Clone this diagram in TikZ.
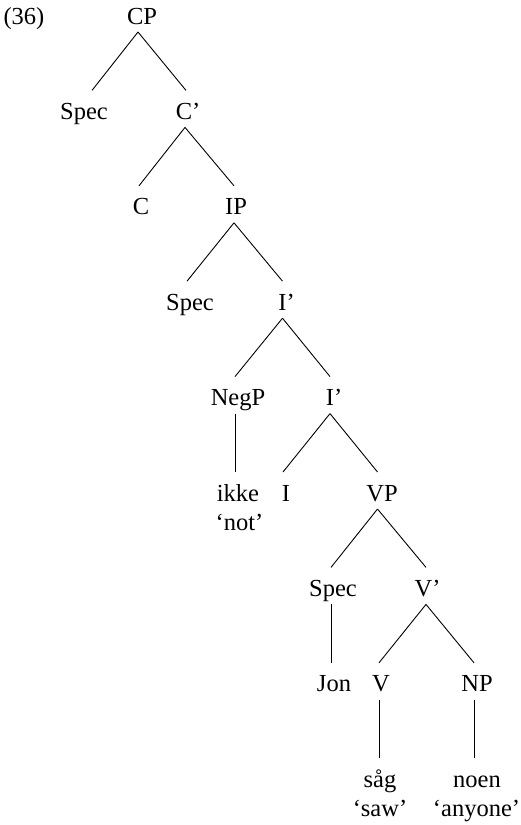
\documentclass[tikz,border=0pt]{standalone}
\usepackage{fontspec}
\setmainfont{Liberation Serif}
\usetikzlibrary{calc}
\begin{document}
\begin{tikzpicture}[x=1pt,y=1pt,
  lab/.style={inner sep=0pt,anchor=base,font=\fontsize{24.5}{29}\selectfont},
  edge/.style={line width=0.9pt}]
\useasboundingbox (0,0) rectangle (520,-825);
\newcommand\br[4]{\draw[edge] ($(#1.base)+(#2,-8)$) -- ($(#3.base)+(#4,29)$);}
% rows: 24 + 95.4 k
\node[lab] (ex) at (24,-24) {(36)};
\node[lab] (cp) at (142,-24) {CP};
\node[lab] (spec1) at (84,-119.4) {Spec};
\node[lab] (cbar) at (188,-119.4) {C’};
\node[lab] (c) at (141,-214.8) {C};
\node[lab] (ip) at (236,-214.8) {IP};
\node[lab] (spec2) at (190,-310.2) {Spec};
\node[lab] (ibar1) at (286.5,-310.2) {I’};
\node[lab] (negp) at (238,-405.6) {NegP};
\node[lab] (ibar2) at (334,-405.6) {I’};
\node[lab] (ikke) at (238,-501) {ikke};
\node[lab] (gnot) at (239.5,-530) {‘not’};
\node[lab] (i) at (286,-501) {I};
\node[lab] (vp) at (382,-501) {VP};
\node[lab] (spec3) at (333,-596.4) {Spec};
\node[lab] (vbar) at (427.5,-596.4) {V’};
\node[lab] (jon) at (334,-691.8) {Jon};
\node[lab] (v) at (381,-691.8) {V};
\node[lab] (np) at (477,-691.8) {NP};
\node[lab] (sag) at (380,-787.2) {såg};
\node[lab] (gsaw) at (380,-816.2) {‘saw’};
\node[lab] (noen) at (477,-787.2) {noen};
\node[lab] (gany) at (476.5,-816.2) {‘anyone’};
\br{cp}{-4}{spec1}{8}
\br{cp}{-4}{cbar}{-2}
\br{cbar}{-3}{c}{-2}
\br{cbar}{-3}{ip}{-2}
\br{ip}{-2}{spec2}{-3}
\br{ip}{-2}{ibar1}{-4}
\br{ibar1}{-4}{negp}{-3}
\br{ibar1}{-4}{ibar2}{-4}
\br{negp}{-3}{ikke}{-3}
\br{ibar2}{-4}{i}{-3}
\br{ibar2}{-4}{vp}{-4.5}
\br{vp}{-4.5}{spec3}{-2}
\br{vp}{-4.5}{vbar}{-1.5}
\br{spec3}{-2}{jon}{-3}
\br{vbar}{-1.5}{v}{-2}
\br{vbar}{-1.5}{np}{-3}
\br{v}{-2}{sag}{-1}
\br{np}{-3}{noen}{-3}
\end{tikzpicture}
\end{document}
